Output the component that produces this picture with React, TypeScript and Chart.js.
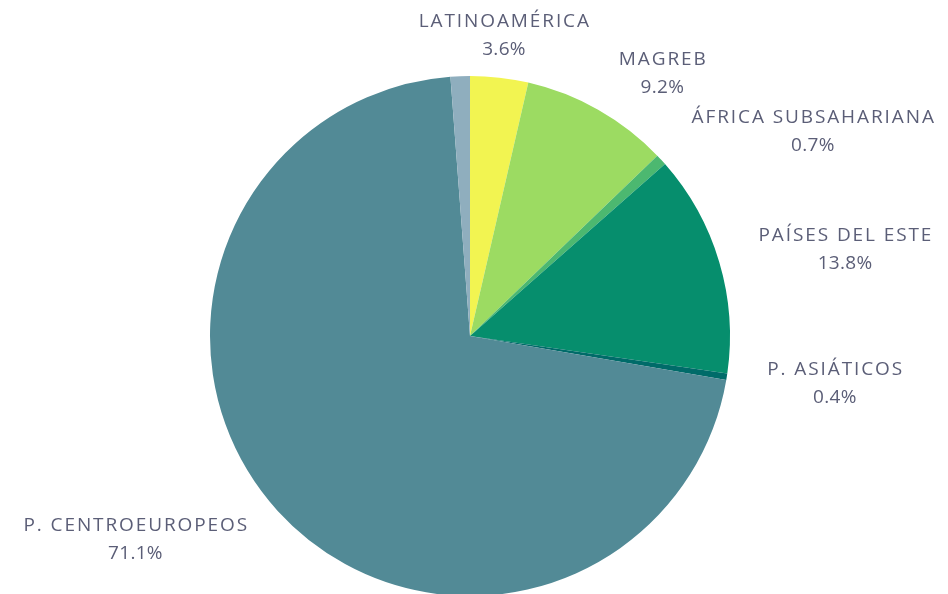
import React, { useEffect, useRef } from "react";
import { Chart, registerables } from "chart.js";

Chart.register(...registerables);

const categories = [
  "LATINOAMÉRICA",
  "MAGREB",
  "ÁFRICA SUBSAHARIANA",
  "PAÍSES DEL ESTE",
  "P. ASIÁTICOS",
  "P. CENTROEUROPEOS",
  "OTROS",
];
const values = [3.6, 9.2, 0.7, 13.8, 0.4, 71.1, 1.2];
const showLabel = [true, true, true, true, true, true, false];
const colors = [
  "#F2F451",
  "#9CDB62",
  "#4CB870",
  "#068E6D",
  "#006B69",
  "#528A96",
  "#8FAEBE",
];

const FONT = "19px 'Open Sans', sans-serif";
const TEXT_COLOR = "#5b5e77";
const LINE_H = 28;
const NAME_SPACING = "1.9px";
const VALUE_SPACING = "0.3px";

const labelPlugin = {
  id: "outsideLabels",
  afterDraw(chart: any) {
    const ctx = chart.ctx;
    const meta = chart.getDatasetMeta(0);
    ctx.save();
    ctx.font = FONT;
    ctx.fillStyle = TEXT_COLOR;
    ctx.textBaseline = "middle";
    ctx.textAlign = "center";
    const measure = (t: string, sp: string) => {
      (ctx as any).letterSpacing = sp;
      return ctx.measureText(t).width;
    };
    meta.data.forEach((arc: any, i: number) => {
      if (!showLabel[i]) return;
      const { x, y, startAngle, endAngle, outerRadius } = arc.getProps(
        ["x", "y", "startAngle", "endAngle", "outerRadius"],
        true
      );
      const mid = (startAngle + endAngle) / 2;
      const c = Math.cos(mid);
      const s = Math.sin(mid);
      const l1 = categories[i];
      const l2 = values[i].toFixed(1) + "%";
      const w1 = measure(l1, NAME_SPACING);
      const w2 = measure(l2, VALUE_SPACING);
      const w = Math.max(w1, w2);
      const h = LINE_H * 2;
      const ax = x + (outerRadius + 40) * c;
      const ay = y + (outerRadius + 14) * s;
      let cx = ax;
      if (c > 0.3) cx = ax + w / 2;
      else if (c < -0.3) cx = ax - w / 2;
      const cy = ay + (h / 2) * s;
      (ctx as any).letterSpacing = NAME_SPACING;
      ctx.fillText(l1, cx + parseFloat(NAME_SPACING) / 2, cy - LINE_H / 2);
      (ctx as any).letterSpacing = VALUE_SPACING;
      ctx.fillText(l2, cx + parseFloat(VALUE_SPACING) / 2, cy + LINE_H / 2);
    });
    ctx.restore();
  },
};

export default function App() {
  const ref = useRef<HTMLCanvasElement | null>(null);
  useEffect(() => {
    document.body.style.margin = "0";
    if (!ref.current) return;
    const chart = new Chart(ref.current, {
      type: "pie",
      data: {
        labels: categories,
        datasets: [
          {
            data: values,
            backgroundColor: colors,
            borderWidth: 0,
          },
        ],
      },
      options: {
        animation: false,
        responsive: false,
        maintainAspectRatio: false,
        layout: { padding: { top: 76, bottom: 4, left: 210, right: 218 } },
        plugins: {
          legend: { display: false },
          tooltip: { enabled: false },
        },
      },
      plugins: [labelPlugin],
    });
    return () => chart.destroy();
  }, []);
  return (
    <div style={{ width: 948, height: 594, overflow: "hidden", background: "#fff" }}>
      <canvas ref={ref} width={948} height={600} style={{ display: "block" }} />
    </div>
  );
}
